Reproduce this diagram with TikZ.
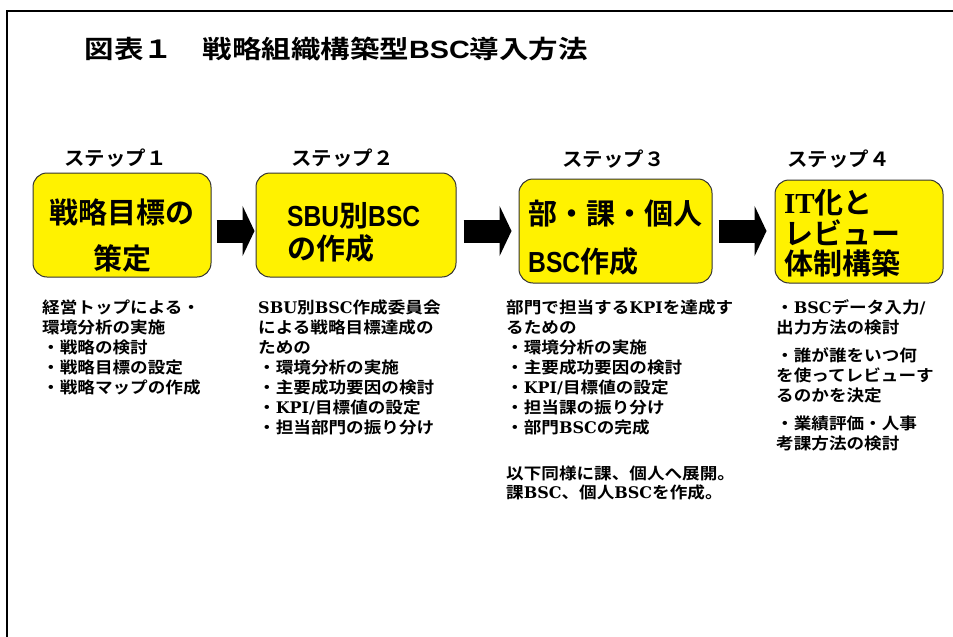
\documentclass[tikz,border=0pt]{standalone}
\usepackage{fontspec}
\usetikzlibrary{arrows.meta,calc}
\newfontfamily\jpT{Noto Sans CJK JP Bold}[FakeStretch=1.18]
\newfontfamily\jpS{Noto Sans CJK JP Bold}[FakeStretch=1.05]
\newfontfamily\jpB{Noto Sans CJK JP Bold}
\newfontfamily\jpD{Noto Sans CJK JP Bold}[FakeStretch=1.1]
\newfontfamily\latT{Liberation Sans Bold}[FakeStretch=1.15]
\newfontfamily\latN{Liberation Sans Bold}[FakeStretch=0.85]
\newfontfamily\latR{Liberation Serif Bold}
\newfontfamily\latD{DejaVu Serif Bold}
\begin{document}
\begin{tikzpicture}[x=1pt,y=-1pt,
  box/.style={draw=black!80, line width=1pt, fill=yellow, rounded corners=14pt, inner sep=0},
  steplabel/.style={anchor=base west, inner sep=0, font=\fontsize{19.5}{20}\selectfont\jpS},
  boxtxt/.style={anchor=base west, inner sep=0, font=\fontsize{29}{30}\selectfont\jpB},
  desc/.style={anchor=base west, inner sep=0, font=\fontsize{16}{20}\selectfont\jpD},
  blockarrow/.style={line width=23pt, -{Triangle[length=12pt,width=50pt]}},
]
\useasboundingbox (0,0) rectangle (953,637);
\draw[line width=2.5pt] (7,637) -- (7,11) -- (953,11);

\node[anchor=base west, inner sep=0, font=\fontsize{25}{26}\selectfont\jpT] (title) at (84.5,58.5) {図表１　戦略組織構築型{\latT BSC}導入方法};

\node[steplabel] (s1) at (64,165.5) {ステップ１};
\node[steplabel] (s2) at (291,165.5) {ステップ２};
\node[steplabel] (s3) at (562,166.5) {ステップ３};
\node[steplabel] (s4) at (787,166.5) {ステップ４};

\node[box, minimum width=178pt, minimum height=104pt] (b1) at (122,225) {};
\node[box, minimum width=200pt, minimum height=104pt] (b2) at (356,225) {};
\node[box, minimum width=193pt, minimum height=104pt] (b3) at (615.5,231) {};
\node[box, minimum width=168pt, minimum height=103pt] (b4) at (859,231.5) {};

\draw[blockarrow] ($(b1.east)+(5pt,-6pt)$) -- ($(b2.west)+(-1pt,-6pt)$);
\draw[blockarrow] ($(b2.east)+(7pt,-6pt)$) -- ($(b3.west)+(-7pt,0pt)$);
\draw[blockarrow] ($(b3.east)+(6pt,0pt)$) -- ($(b4.west |- b3.east)+(-8pt,0pt)$);

\node[boxtxt, anchor=base] (t1a) at (122,223) {戦略目標の};
\node[boxtxt, anchor=base] (t1b) at (122,269) {策定};
\node[boxtxt] (t2a) at (287,226) {{\latN SBU}別{\latN BSC}};
\node[boxtxt] (t2b) at (287,259) {の作成};
\node[boxtxt] (t3a) at (528,224) {部・課・個人};
\node[boxtxt] (t3b) at (528,272) {{\latN BSC}作成};
\node[boxtxt] (t4a) at (784,213) {{\latR IT}化と};
\node[boxtxt] (t4b) at (784,244) {レビュー};
\node[boxtxt] (t4c) at (784,274) {体制構築};

\foreach \t [count=\i] in {経営トップによる・, 環境分析の実施, ・戦略の検討, ・戦略目標の設定, ・戦略マップの作成}
  \node[desc] (c1-\i) at (42, 293+20*\i) {\t};

\foreach \t [count=\i] in {{\latD SBU}別{\latD BSC}作成委員会, による戦略目標達成の, ための, ・環境分析の実施, ・主要成功要因の検討, ・{\latD KPI/}目標値の設定, ・担当部門の振り分け}
  \node[desc] (c2-\i) at (258, 293+20*\i) {\t};

\foreach \t [count=\i] in {部門で担当する{\latD KPI}を達成す, るための, ・環境分析の実施, ・主要成功要因の検討, ・{\latD KPI/}目標値の設定, ・担当課の振り分け, ・部門{\latD BSC}の完成}
  \node[desc] (c3-\i) at (506, 293+20*\i) {\t};
\node[desc] (c3-8) at (506,479) {以下同様に課、個人へ展開。};
\node[desc] (c3-9) at (506,498) {課{\latD BSC}、個人{\latD BSC}を作成。};

\node[desc] (c4-1) at (776,313) {・{\latD BSC}データ入力{\latD /}};
\node[desc] (c4-2) at (776,333) {出力方法の検討};
\node[desc] (c4-3) at (776,361) {・誰が誰をいつ何};
\node[desc] (c4-4) at (776,381) {を使ってレビューす};
\node[desc] (c4-5) at (776,401) {るのかを決定};
\node[desc] (c4-6) at (776,429) {・業績評価・人事};
\node[desc] (c4-7) at (776,449) {考課方法の検討};
\end{tikzpicture}
\end{document}
